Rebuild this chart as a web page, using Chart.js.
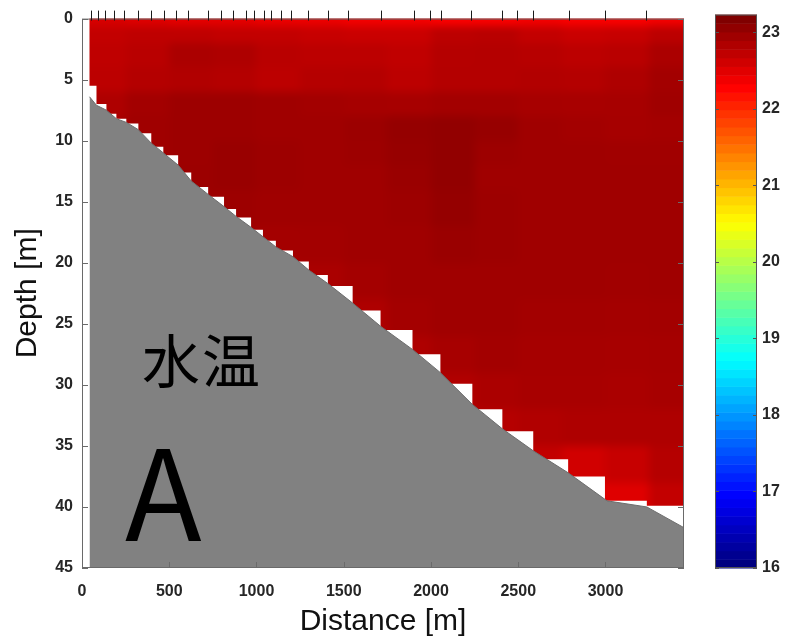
<!DOCTYPE html>
<html>
<head>
<meta charset="utf-8">
<script src="https://cdn.jsdelivr.net/npm/chart.js@4.4.1/dist/chart.umd.min.js"></script>
<style>
  html, body { margin: 0; padding: 0; background: #fff; }
  #wrap { position: relative; width: 786px; height: 640px; overflow: hidden; }
  #mainChart { position: absolute; left: 0; top: 0; }
  #barChart { position: absolute; left: 700px; top: 0; }
  .label { position: absolute; font-family: "Noto Sans CJK JP", sans-serif; color: #000; line-height: 1; white-space: nowrap; }
</style>
</head>
<body>
<div id="wrap">
  <canvas id="mainChart" width="786" height="640"></canvas>
  <canvas id="barChart" width="86" height="640"></canvas>
  <div class="label" style="left:142px;top:329px;font-size:58px;letter-spacing:2px;">水温</div>
  <div class="label" style="left:125px;top:423px;font-size:126px;">A</div>
</div>
<script>
// ---------------------------
// data
// ---------------------------

const X_MAX = 3450;      // m
const DEPTH_MAX = 45;    // m
const CB_MIN = 16;       // colour limits (deg C)
const CB_MAX = 23.23;

const xTicks = [0, 500, 1000, 1500, 2000, 2500, 3000];
const yTicks = [0, 5, 10, 15, 20, 25, 30, 35, 40, 45];
const cbTicks = [16, 17, 18, 19, 20, 21, 22, 23];

// CTD stations (marks on top edge)
const stations = [54, 89, 129, 186, 243, 323, 397, 471, 540, 609, 723, 797, 866, 940, 986,
  1043, 1083, 1140, 1197, 1294, 1409, 1523, 1711, 1900, 1997, 2060, 2231, 2409, 2494,
  2586, 2791, 2997, 3231];

// columns covered by casts and how deep each goes
const castEdges = [43, 83, 140, 197, 254, 323, 397, 466, 551, 626, 723, 814, 883, 969, 1037,
  1111, 1209, 1300, 1409, 1551, 1711, 1894, 2054, 2237, 2409, 2586, 2786, 2997, 3237, 3450];
const castDepth = [5.5, 7.0, 7.8, 8.2, 8.6, 9.4, 10.5, 11.2, 12.6, 13.8, 14.6, 15.6, 16.3, 17.3,
  18.2, 19.0, 19.9, 21.0, 21.9, 23.9, 25.5, 27.5, 29.9, 32.0, 33.8, 36.1, 37.5, 39.5, 39.9];

// bottom profile
const seabedDist = [43, 83, 140, 197, 254, 323, 397, 466, 551, 626, 723, 814, 883, 969, 1111,
  1209, 1300, 1409, 1551, 1711, 1894, 2054, 2237, 2409, 2586, 2786, 3009, 3237, 3450];
const seabedDepth = [6.4, 7.1, 7.5, 8.2, 8.5, 9.1, 10.2, 11.0, 12.0, 13.3, 14.4, 15.4, 16.2, 17.1,
  18.7, 19.5, 20.6, 21.7, 23.3, 25.2, 27.1, 29.0, 31.6, 33.6, 35.4, 37.2, 39.5, 40.0, 41.7];

// water temperature grid (rows = depth bands, cols = distance bands)
const distEdges = [0, 250, 500, 750, 1000, 1250, 1500, 1750, 2000, 2250, 2500, 2750, 3000, 3250, 3450];
const depthEdges = [0, 0.6, 2, 4, 6, 8, 10, 12, 14, 17, 20, 23, 26, 29, 32, 35, 38, 41];
const temperature = [
  [22.60, 22.55, 22.50, 22.50, 22.45, 22.45, 22.40, 22.40, 22.35, 22.35, 22.40, 22.35, 22.35, 22.40], // 0-0.6
  [22.75, 22.78, 22.78, 22.75, 22.75, 22.72, 22.70, 22.70, 22.80, 22.82, 22.75, 22.70, 22.72, 22.80], // 0.6-2
  [22.78, 22.82, 22.92, 22.90, 22.82, 22.80, 22.80, 22.77, 22.85, 22.86, 22.84, 22.80, 22.82, 22.92], // 2-4
  [22.80, 22.86, 22.88, 22.86, 22.80, 22.85, 22.86, 22.80, 22.86, 22.86, 22.87, 22.86, 22.90, 22.98], // 4-6
  [22.90, 22.98, 23.02, 23.02, 23.00, 22.98, 22.96, 22.95, 22.98, 22.98, 22.95, 22.94, 22.95, 23.00], // 6-8
  [22.95, 23.00, 23.02, 23.02, 23.00, 23.00, 23.03, 23.08, 23.10, 23.06, 23.00, 22.98, 22.96, 22.97], // 8-10
  [22.98, 23.00, 23.02, 23.05, 23.02, 23.00, 23.02, 23.06, 23.10, 23.02, 23.00, 23.00, 22.99, 22.99], // 10-12
  [23.00, 23.00, 23.03, 23.05, 23.02, 23.00, 23.00, 23.04, 23.10, 23.00, 23.00, 23.00, 23.00, 23.00], // 12-14
  [23.00, 23.00, 23.03, 23.02, 23.00, 23.00, 23.00, 23.02, 23.08, 23.02, 23.00, 23.00, 23.00, 23.00], // 14-17
  [23.00, 23.00, 23.00, 23.00, 22.97, 22.98, 23.00, 23.00, 23.04, 23.02, 23.00, 23.00, 23.00, 23.00], // 17-20
  [22.93, 22.93, 22.93, 22.93, 22.93, 22.93, 22.97, 23.00, 23.00, 23.00, 23.00, 23.00, 22.99, 23.00], // 20-23
  [22.90, 22.90, 22.90, 22.90, 22.90, 22.90, 22.90, 22.97, 23.00, 23.00, 22.98, 22.98, 22.97, 22.98], // 23-26
  [22.90, 22.90, 22.90, 22.90, 22.90, 22.90, 22.90, 22.90, 22.95, 22.98, 22.96, 22.96, 22.95, 22.96], // 26-29
  [22.88, 22.88, 22.88, 22.88, 22.88, 22.88, 22.88, 22.88, 22.88, 22.92, 22.94, 22.94, 22.93, 22.95], // 29-32
  [22.85, 22.85, 22.85, 22.85, 22.85, 22.85, 22.85, 22.85, 22.85, 22.85, 22.88, 22.90, 22.90, 22.90], // 32-35
  [22.80, 22.80, 22.80, 22.80, 22.80, 22.80, 22.80, 22.80, 22.80, 22.80, 22.75, 22.65, 22.72, 22.85], // 35-38
  [22.55, 22.55, 22.55, 22.55, 22.55, 22.55, 22.55, 22.55, 22.55, 22.55, 22.55, 22.55, 22.55, 22.75]  // 38-41
];

// ---------------------------
// helpers
// ---------------------------

const TEXT = '#262626';
const FONT = '"Liberation Sans", Arial, sans-serif';
const TICK_FONT = { family: FONT, size: 16, weight: 'bold' };

function jet(t) {
  const c = v => Math.max(0, Math.min(1, v));
  return [c(1.5 - Math.abs(4 * t - 3)), c(1.5 - Math.abs(4 * t - 2)), c(1.5 - Math.abs(4 * t - 1))];
}
function rgb(a) {
  return `rgb(${Math.round(a[0] * 255)},${Math.round(a[1] * 255)},${Math.round(a[2] * 255)})`;
}
function tempColor(T) {
  return rgb(jet((T - CB_MIN) / (CB_MAX - CB_MIN)));
}

// simple box blur on the rgb channels (only softens the cell edges)
function boxBlur(img, w, h, r) {
  const d = img.data;
  const tmp = new Float32Array(w * h * 3);
  const n = 2 * r + 1;
  for (let yy = 0; yy < h; yy++) {
    for (let ch = 0; ch < 3; ch++) {
      let sum = 0;
      for (let k = -r; k <= r; k++) sum += d[(yy * w + Math.min(w - 1, Math.max(0, k))) * 4 + ch];
      for (let xx = 0; xx < w; xx++) {
        tmp[(yy * w + xx) * 3 + ch] = sum / n;
        const add = Math.min(w - 1, xx + r + 1), sub = Math.max(0, xx - r);
        sum += d[(yy * w + add) * 4 + ch] - d[(yy * w + sub) * 4 + ch];
      }
    }
  }
  for (let xx = 0; xx < w; xx++) {
    for (let ch = 0; ch < 3; ch++) {
      let sum = 0;
      for (let k = -r; k <= r; k++) sum += tmp[(Math.min(h - 1, Math.max(0, k)) * w + xx) * 3 + ch];
      for (let yy = 0; yy < h; yy++) {
        d[(yy * w + xx) * 4 + ch] = sum / n;
        const add = Math.min(h - 1, yy + r + 1), sub = Math.max(0, yy - r);
        sum += tmp[(add * w + xx) * 3 + ch] - tmp[(sub * w + xx) * 3 + ch];
      }
    }
  }
}

// temperature field, clipped to the cast coverage
const fieldPlugin = {
  id: 'field',
  beforeDatasetsDraw(chart) {
    const { ctx, scales: { x, y } } = chart;
    const w = chart.width, h = chart.height;
    const off = document.createElement('canvas');
    off.width = w;
    off.height = h;
    const o = off.getContext('2d');
    const nr = temperature.length, nc = distEdges.length - 1;
    for (let r = 0; r < nr; r++) {
      let y0 = Math.round(y.getPixelForValue(depthEdges[r]));
      let y1 = Math.round(y.getPixelForValue(depthEdges[r + 1]));
      if (r === 0) y0 = 0;
      if (r === nr - 1) y1 = h;
      for (let c = 0; c < nc; c++) {
        let x0 = Math.round(x.getPixelForValue(distEdges[c]));
        let x1 = Math.round(x.getPixelForValue(distEdges[c + 1]));
        if (c === 0) x0 = 0;
        if (c === nc - 1) x1 = w;
        o.fillStyle = tempColor(temperature[r][c]);
        o.fillRect(x0, y0, x1 - x0, y1 - y0);
      }
    }
    const img = o.getImageData(0, 0, w, h);
    boxBlur(img, w, h, 5);
    boxBlur(img, w, h, 3);
    o.putImageData(img, 0, 0);

    ctx.save();
    ctx.beginPath();
    ctx.moveTo(x.getPixelForValue(castEdges[0]), y.getPixelForValue(0));
    castDepth.forEach((d, i) => {
      ctx.lineTo(x.getPixelForValue(castEdges[i]), y.getPixelForValue(d));
      ctx.lineTo(x.getPixelForValue(castEdges[i + 1]), y.getPixelForValue(d));
    });
    ctx.lineTo(x.getPixelForValue(castEdges[castEdges.length - 1]), y.getPixelForValue(0));
    ctx.closePath();
    ctx.clip();
    ctx.drawImage(off, 0, 0);
    ctx.restore();
  }
};

// box, inward ticks, station marks
const framePlugin = {
  id: 'frame',
  afterDatasetsDraw(chart) {
    const { ctx, chartArea: a, scales: { x, y } } = chart;
    const line = (x0, y0, x1, y1) => { ctx.beginPath(); ctx.moveTo(x0, y0); ctx.lineTo(x1, y1); ctx.stroke(); };
    ctx.save();
    ctx.lineWidth = 1;
    ctx.strokeStyle = '#6a6a6a';
    ctx.strokeRect(a.left + 0.5, a.top + 0.5, a.right - a.left - 1, a.bottom - a.top - 1);
    x.ticks.forEach(t => {
      const px = Math.round(x.getPixelForValue(t.value)) + 0.5;
      line(px, a.bottom, px, a.bottom - 6);
    });
    y.ticks.forEach(t => {
      const py = Math.round(y.getPixelForValue(t.value)) + 0.5;
      line(a.left, py, a.left + 6, py);
      line(a.right, py, a.right - 6, py);
    });
    ctx.strokeStyle = '#1a1a1a';
    stations.forEach(s => {
      const px = Math.round(x.getPixelForValue(s)) + 0.5;
      line(px, a.top - 8, px, a.top + 2);
    });
    ctx.restore();
  }
};

// ---------------------------
// main section
// ---------------------------

new Chart(document.getElementById('mainChart'), {
  type: 'scatter',
  data: {
    datasets: [{
      type: 'line',
      label: 'seabed',
      data: seabedDist.map((d, i) => ({ x: d, y: seabedDepth[i] })),
      fill: { value: DEPTH_MAX },
      backgroundColor: '#818181',
      borderColor: '#6e6e6e',
      borderWidth: 1,
      pointRadius: 0,
      tension: 0
    }]
  },
  options: {
    responsive: false,
    animation: false,
    events: [],
    layout: { padding: { top: 12, right: 102, left: 0, bottom: 0 } },
    plugins: { legend: { display: false }, tooltip: { enabled: false } },
    scales: {
      x: {
        type: 'linear', min: 0, max: X_MAX,
        grid: { display: false, drawTicks: false },
        border: { display: false },
        afterBuildTicks: s => { s.ticks = xTicks.map(v => ({ value: v })); },
        afterFit: s => { s.height = 72; },
        ticks: { color: TEXT, padding: 14, maxRotation: 0, font: TICK_FONT, callback: v => String(v) },
        title: { display: true, text: 'Distance [m]', color: '#111', padding: { top: 0, bottom: 0 },
                 font: { family: FONT, size: 30 } }
      },
      y: {
        type: 'linear', reverse: true, min: 0, max: DEPTH_MAX,
        grid: { display: false, drawTicks: false },
        border: { display: false },
        afterBuildTicks: s => { s.ticks = yTicks.map(v => ({ value: v })); },
        afterFit: s => { s.width = 82; },
        ticks: { color: TEXT, padding: 9, font: TICK_FONT, callback: v => String(v) },
        title: { display: true, text: 'Depth [m]', color: '#111', padding: { top: 10, bottom: 0 },
                 font: { family: FONT, size: 30 } }
      }
    }
  },
  plugins: [fieldPlugin, framePlugin]
});

// ---------------------------
// colour bar
// ---------------------------

const colorbarPlugin = {
  id: 'colorbar',
  afterDraw(chart) {
    const { ctx, chartArea: a, scales: { y } } = chart;
    const n = 64;
    ctx.save();
    for (let i = 0; i < n; i++) {
      const y0 = y.getPixelForValue(CB_MIN + (CB_MAX - CB_MIN) * i / n);
      const y1 = y.getPixelForValue(CB_MIN + (CB_MAX - CB_MIN) * (i + 1) / n);
      ctx.fillStyle = rgb(jet(i / (n - 1)));
      ctx.fillRect(a.left, y1, a.right - a.left, y0 - y1 + 0.5);
    }
    ctx.strokeStyle = '#555';
    ctx.lineWidth = 1;
    ctx.strokeRect(a.left + 0.5, a.top + 0.5, a.right - a.left - 1, a.bottom - a.top - 1);
    cbTicks.forEach(v => {
      const py = Math.round(y.getPixelForValue(v)) + 0.5;
      ctx.beginPath();
      ctx.moveTo(a.left, py); ctx.lineTo(a.left + 4, py);
      ctx.moveTo(a.right, py); ctx.lineTo(a.right - 4, py);
      ctx.stroke();
    });
    ctx.restore();
  }
};

new Chart(document.getElementById('barChart'), {
  type: 'scatter',
  data: { datasets: [] },
  options: {
    responsive: false,
    animation: false,
    events: [],
    layout: { padding: { top: 10, bottom: 72, left: 15, right: 0 } },
    plugins: { legend: { display: false }, tooltip: { enabled: false } },
    scales: {
      x: { display: false },
      y: {
        position: 'right', min: CB_MIN, max: CB_MAX,
        grid: { display: false, drawTicks: false },
        border: { display: false },
        afterBuildTicks: s => { s.ticks = cbTicks.map(v => ({ value: v })); },
        afterFit: s => { s.width = 29; },
        ticks: { color: TEXT, padding: 5, font: TICK_FONT, callback: v => String(v) }
      }
    }
  },
  plugins: [colorbarPlugin]
});
</script>
</body>
</html>
